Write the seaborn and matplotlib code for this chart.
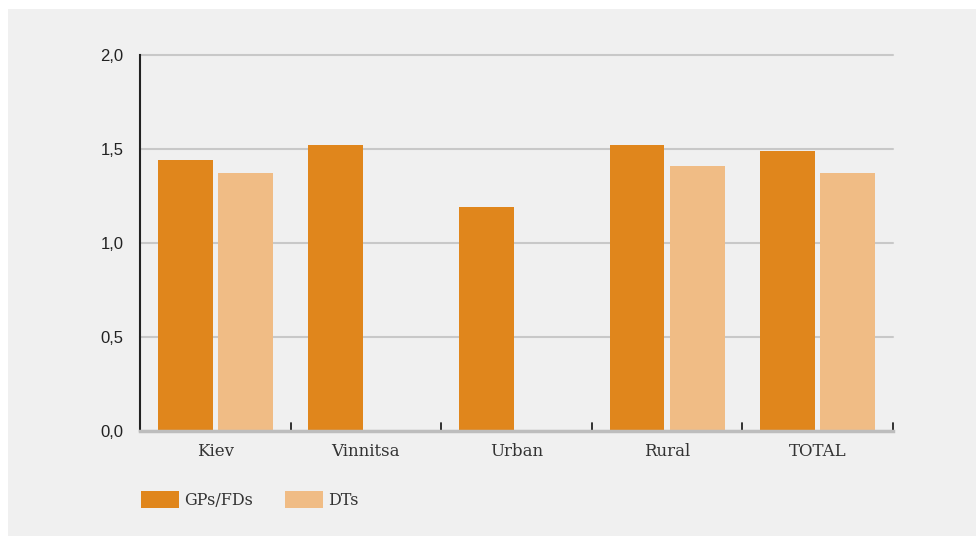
import numpy as np
import pandas as pd
import matplotlib
matplotlib.use("Agg")
import matplotlib.pyplot as plt
from matplotlib.patches import Rectangle, Patch
import seaborn as sns

# Data
regions = ["Kiev", "Vinnitsa", "Urban", "Rural", "TOTAL"]
gps_fds = [1.44, 1.52, 1.19, 1.52, 1.49]
dts = [1.37, np.nan, np.nan, 1.41, 1.37]
series_names = ["GPs/FDs", "DTs"]
y_ticks = [0.0, 0.5, 1.0, 1.5, 2.0]
y_tick_labels = ["0,0", "0,5", "1,0", "1,5", "2,0"]

colors = {"GPs/FDs": "#E0861C", "DTs": "#F0BC85"}
bg = "#F0F0F0"

df = pd.DataFrame({
    "region": regions * 2,
    "series": [series_names[0]] * len(regions) + [series_names[1]] * len(regions),
    "value": gps_fds + dts,
})

sns.set_theme(style="white")
plt.rcParams["font.family"] = ["DejaVu Sans"]

fig = plt.figure(figsize=(9.76, 5.36), dpi=100, facecolor="white")
# grey panel behind the chart
fig.patches.append(Rectangle((8 / 976, 0), 1, 1 - 9 / 536, transform=fig.transFigure,
                             facecolor=bg, edgecolor="none", zorder=-10))

ax = fig.add_axes([140 / 976, 1 - 431 / 536, (893 - 140) / 976, (431 - 55) / 536])
ax.set_facecolor(bg)

sns.barplot(data=df, x="region", y="value", hue="series", order=regions,
            hue_order=series_names, palette=colors, width=0.8, gap=0.09,
            saturation=1, errorbar=None, legend=False, ax=ax, zorder=3,
            linewidth=0, edgecolor="none")

ax.set_xlim(-0.5, len(regions) - 0.5)
ax.set_ylim(0, 2.0)
ax.set_yticks(y_ticks)
ax.set_yticklabels(y_tick_labels, fontsize=12, color="#222222",
                   family=["Liberation Sans", "DejaVu Sans"])
ax.yaxis.grid(True, color="#C8C8C8", linewidth=1.5, zorder=0)
for gl in ax.get_ygridlines():
    gl.set_clip_on(False)
ax.set_axisbelow(True)

ax.set_xticks(range(len(regions)))
ax.set_xticklabels(regions, fontsize=12, color="#333333", family=["DejaVu Serif"])
ax.tick_params(axis="x", length=0, pad=9)
ax.tick_params(axis="y", length=0, pad=12)

# boundary ticks between categories
for b in np.arange(0.5, len(regions), 1.0):
    ax.plot([b, b], [0, 0.045], color="#222222", linewidth=1.3, zorder=4, clip_on=False)

ax.set_xlabel("")
ax.set_ylabel("")
for s in ["top", "right"]:
    ax.spines[s].set_visible(False)
ax.spines["left"].set_color("#222222")
ax.spines["left"].set_linewidth(1.5)
ax.spines["bottom"].set_color("#BDBDBD")
ax.spines["bottom"].set_linewidth(2.5)
ax.spines["bottom"].set_zorder(5)

handles = [Patch(facecolor=colors[n], edgecolor="none", label=n) for n in series_names]
leg = fig.legend(handles=handles, loc="center left", ncol=2,
                 bbox_to_anchor=(141 / 976, 1 - 500 / 536),
                 frameon=False, borderpad=0, borderaxespad=0,
                 handlelength=2.4, handleheight=1.2, handletextpad=0.3,
                 columnspacing=2.0, prop={"family": "DejaVu Serif", "size": 11.5})
for t in leg.get_texts():
    t.set_color("#333333")

fig.savefig("out.png", dpi=100, facecolor="white")
